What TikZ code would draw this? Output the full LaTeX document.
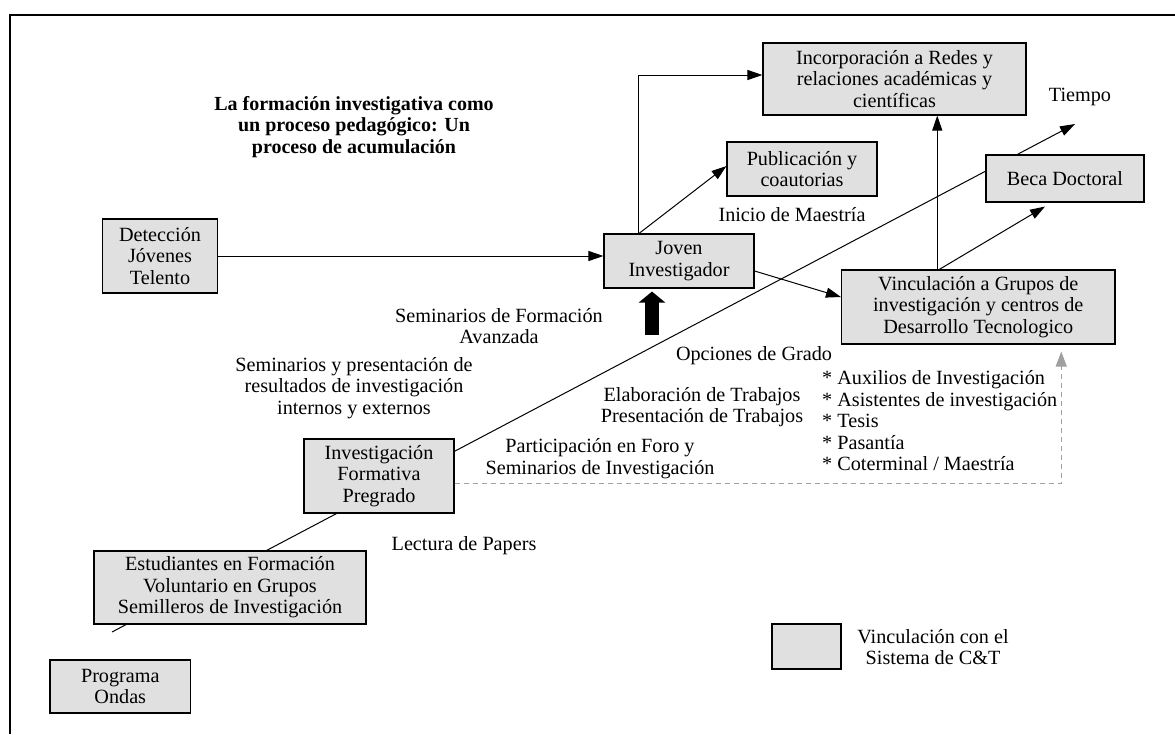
\documentclass[tikz,border=0pt]{standalone}
\usepackage{fontspec}
\setmainfont{Liberation Serif}
\usetikzlibrary{arrows.meta}
\definecolor{boxgray}{RGB}{224,224,224}
\definecolor{dashgray}{RGB}{160,160,160}
\newcommand\mybody{\fontsize{20.2}{21.5}\selectfont}
\newcommand\mytitle{\fontsize{20}{21.5}\selectfont\bfseries}
\begin{document}
\begin{tikzpicture}[x=1pt,y=-1pt,
  box/.style={draw=black, line width=1.1pt, fill=boxgray, inner sep=0pt, align=center, font=\mybody},
  lbl/.style={inner sep=0pt, align=center, font=\mybody},
  conn/.style={line width=1pt, -{Triangle[length=15pt,width=10pt]}},
  dasharrow/.style={draw=dashgray, line width=1pt, dash pattern=on 5pt off 4pt, -{Triangle[length=15pt,width=11pt,fill=dashgray]}},
  fatarrow/.style={line width=14pt, -{Triangle[length=11pt,width=26pt]}},
  frameline/.style={line width=1.1pt}
]
\useasboundingbox (0,0) rectangle (1175,734);
% frame
\coordinate (fbl) at (10,734);
\coordinate (ftl) at (10,15);
\coordinate (ftr) at (1175,15);
\draw[frameline] (fbl) -- (ftl) -- (ftr);
% time line (behind boxes)
\coordinate (tstart) at (112,632);
\coordinate (tend) at (1075,124);
\draw[conn] (tstart) -- (tend);
% boxes
\node[box, minimum width=115pt, minimum height=74pt] (det) at (160,256) {Detección\\Jóvenes\\Telento};
\node[box, minimum width=150pt, minimum height=54pt] (jov) at (679,261) {Joven\\Investigador};
\node[box, minimum width=150pt, minimum height=54pt] (pub) at (802,169) {Publicación y\\coautorias};
\node[box, minimum width=263pt, minimum height=72pt] (inc) at (894.5,79) {Incorporación a Redes y\\relaciones académicas y\\científicas};
\node[box, minimum width=158pt, minimum height=47pt] (beca) at (1065,178.5) {Beca Doctoral};
\node[box, minimum width=273.5pt, minimum height=74pt] (vin) at (978.25,307) {Vinculación a Grupos de\\investigación y centros de\\Desarrollo Tecnologico};
\node[box, minimum width=150pt, minimum height=74pt] (inv) at (379,476) {Investigación\\Formativa\\Pregrado};
\node[box, minimum width=272pt, minimum height=73pt] (est) at (230,587.5) {Estudiantes en Formación\\Voluntario en Grupos\\Semilleros de Investigación};
\node[box, minimum width=140.6pt, minimum height=53pt] (ond) at (120.3,686.5) {Programa\\Ondas};
\node[box, minimum width=69pt, minimum height=45pt] (leg) at (806.5,646.5) {};
% labels
\node[lbl, font=\mytitle] (title) at (354,127) {La formación investigativa como\\un proceso pedagógico: Un\\proceso de acumulación};
\node[lbl] (tiempo) at (1080,97) {Tiempo};
\node[lbl] (inicio) at (792,215) {Inicio de Maestría};
\node[lbl] (semform) at (499,326) {Seminarios de Formación\\Avanzada};
\node[lbl] (sempres) at (354,388) {Seminarios y presentación de\\resultados de investigación\\internos y externos};
\node[lbl] (opciones) at (754,356) {Opciones de Grado};
\node[lbl] (elab) at (702,407) {Elaboración de Trabajos\\Presentación de Trabajos};
\node[lbl] (particip) at (600,458.5) {Participación en Foro y\\Seminarios de Investigación};
\node[lbl, align=left, anchor=west] (bullets) at (822,421) {* Auxilios de Investigación\\* Asistentes de investigación\\* Tesis\\* Pasantía\\* Coterminal / Maestría};
\node[lbl] (lectura) at (464,546) {Lectura de Papers};
\node[lbl] (legtext) at (933,647) {Vinculación con el\\Sistema de C\&T};
% connectors
\draw[conn] (det.east) -- (det.east -| jov.west);
\draw[conn] ([xshift=-41pt]jov.north) |- ([yshift=4pt]inc.west);
\draw[conn] ([xshift=-40pt]jov.north) -- ([yshift=3pt]pub.west);
\draw[conn] ([yshift=-10pt]jov.east) -- ([yshift=10pt]vin.west);
\draw[conn] ([xshift=-41pt]vin.north) -- ([xshift=-41pt]vin.north |- inc.south);
\draw[conn] ([xshift=-39pt]vin.north) -- ([xshift=-20pt,yshift=-4pt]beca.south);
\draw[dasharrow] ([yshift=-7pt]inv.east) -| ([xshift=83pt,yshift=-7pt]vin.south);
\coordinate (fatbase) at (652,335);
\draw[fatarrow] (fatbase) -- ([xshift=-27pt,yshift=-3pt]jov.south);
\end{tikzpicture}
\end{document}
